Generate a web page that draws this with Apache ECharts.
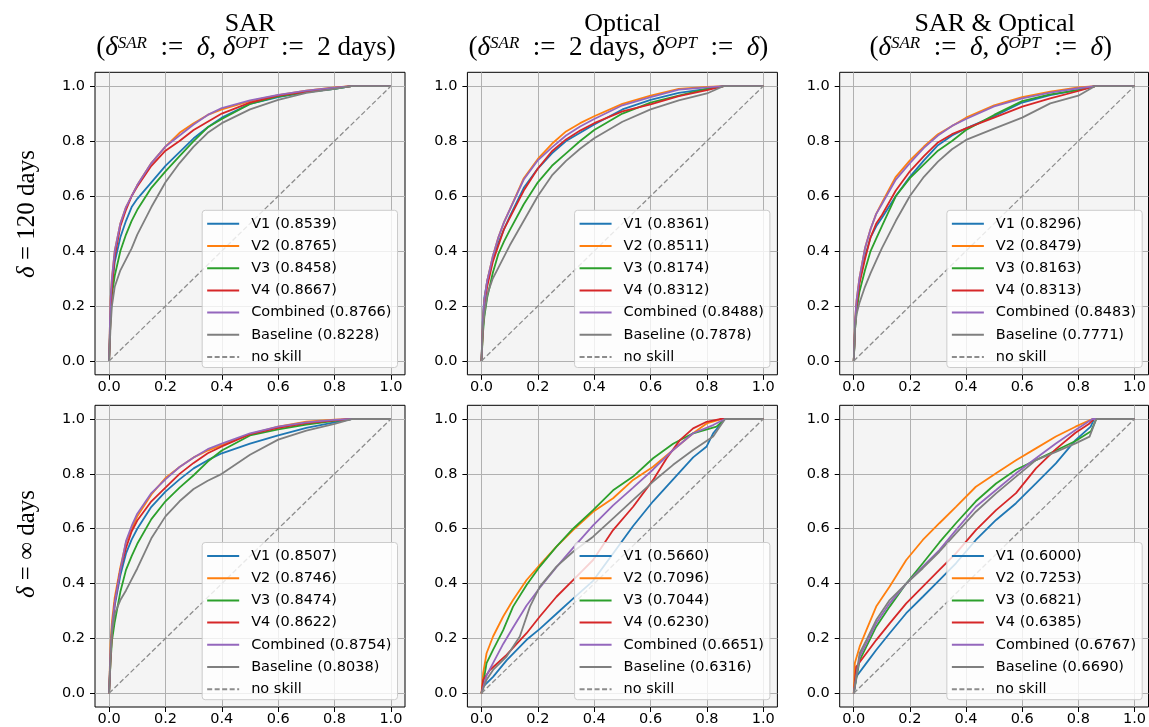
<!DOCTYPE html>
<html><head><meta charset="utf-8">
<script src="https://cdn.jsdelivr.net/npm/echarts@6/dist/echarts.min.js"></script>
<style>html,body{margin:0;padding:0;background:#fff}#c{width:1149px;height:727px}</style>
</head><body><div id="c"></div>
<script>
// ---------- data ----------
const tickValues = [0, 0.2, 0.4, 0.6, 0.8, 1.0];
const tickLabels = ['0.0', '0.2', '0.4', '0.6', '0.8', '1.0'];
const modelNames = ['V1', 'V2', 'V3', 'V4', 'Combined', 'Baseline'];
const colTitles = ['SAR', 'Optical', 'SAR & Optical'];
const rowLabels = ['120', '∞'];

// shared false-positive-rate grid for the smooth panels
const fprGrid = [0,0.005,0.01,0.02,0.04,0.06,0.08,0.1,0.15,0.2,0.25,0.3,0.35,0.4,0.5,0.6,0.7,0.8,0.86,1];

// SAR, delta = 120 days
const sar120_auc = ['0.8539','0.8765','0.8458','0.8667','0.8766','0.8228'];
const sar120_V1 = [0,.18,.27,.36,.45,.51,.56,.59,.65,.71,.76,.81,.85,.885,.935,.96,.978,.99,1,1];
const sar120_V2 = [0,.22,.30,.40,.50,.56,.60,.64,.72,.78,.83,.865,.895,.915,.945,.967,.983,.995,1,1];
const sar120_V3 = [0,.15,.24,.31,.40,.46,.51,.55,.63,.69,.745,.80,.85,.88,.935,.962,.978,.99,1,1];
const sar120_V4 = [0,.15,.27,.38,.49,.55,.60,.635,.71,.765,.80,.84,.87,.90,.94,.965,.98,.993,1,1];
const sar120_C  = [0,.22,.30,.40,.50,.56,.60,.64,.72,.78,.82,.86,.895,.92,.948,.968,.983,.994,1,1];
const sar120_B  = [0,.12,.20,.27,.33,.37,.41,.46,.56,.65,.72,.78,.83,.865,.915,.95,.975,.99,1,1];

// Optical, delta = 120 days
const opt120_auc = ['0.8361','0.8511','0.8174','0.8312','0.8488','0.7878'];
const opt120_V1 = [0,.16,.23,.29,.37,.43,.48,.525,.63,.70,.755,.80,.83,.86,.915,.95,.975,.99,1,1];
const opt120_V2 = [0,.15,.22,.29,.38,.45,.505,.55,.665,.735,.79,.835,.865,.89,.935,.965,.99,.997,1,1];
const opt120_V3 = [0,.10,.16,.23,.32,.39,.435,.475,.57,.65,.71,.755,.80,.84,.90,.94,.965,.99,1,1];
const opt120_V4 = [0,.12,.19,.27,.36,.42,.48,.52,.62,.70,.763,.806,.838,.865,.908,.933,.963,.985,1,1];
const opt120_C  = [0,.15,.22,.29,.38,.45,.505,.55,.66,.73,.777,.82,.853,.88,.93,.96,.987,.995,1,1];
const opt120_B  = [0,.12,.17,.24,.30,.34,.38,.42,.51,.60,.675,.728,.772,.81,.87,.915,.948,.973,1,1];

// SAR & Optical, delta = 120 days
const so120_auc = ['0.8296','0.8479','0.8163','0.8313','0.8483','0.7771'];
const so120_V1 = [0,.13,.20,.29,.38,.45,.49,.52,.60,.67,.73,.785,.82,.846,.89,.94,.967,.986,1,1];
const so120_V2 = [0,.15,.22,.30,.41,.48,.535,.575,.67,.73,.78,.825,.855,.885,.93,.96,.98,.995,1,1];
const so120_V3 = [0,.12,.18,.25,.33,.40,.445,.49,.60,.665,.715,.765,.80,.84,.895,.945,.97,.985,1,1];
const so120_V4 = [0,.13,.20,.28,.37,.45,.50,.53,.62,.69,.745,.795,.825,.846,.885,.925,.955,.982,1,1];
const so120_C  = [0,.15,.22,.30,.41,.48,.535,.57,.66,.72,.775,.82,.855,.88,.926,.955,.976,.992,1,1];
const so120_B  = [0,.12,.17,.21,.27,.32,.365,.41,.51,.60,.67,.725,.77,.804,.845,.885,.937,.965,1,1];

// SAR, delta = inf
const sarInf_auc = ['0.8507','0.8746','0.8474','0.8622','0.8754','0.8038'];
const sarInf_V1 = [0,.15,.22,.32,.43,.51,.56,.60,.68,.735,.78,.82,.85,.875,.91,.94,.968,.988,1,1];
const sarInf_V2 = [0,.18,.26,.35,.46,.55,.60,.645,.725,.785,.825,.86,.885,.905,.945,.972,.99,.998,1,1];
const sarInf_V3 = [0,.11,.19,.26,.37,.45,.50,.545,.635,.70,.75,.795,.845,.885,.94,.962,.98,.993,1,1];
const sarInf_V4 = [0,.12,.22,.33,.45,.53,.59,.63,.70,.75,.80,.84,.875,.90,.945,.968,.985,.995,1,1];
const sarInf_C  = [0,.15,.24,.33,.45,.555,.61,.655,.73,.78,.825,.86,.89,.91,.948,.972,.988,.997,1,1];
const sarInf_B  = [0,.12,.22,.29,.34,.375,.415,.455,.565,.645,.70,.745,.775,.80,.87,.925,.958,.982,1,1];

// Optical, delta = inf  ([fpr, tpr] pairs)
const optInf_auc = ['0.5660','0.7096','0.7044','0.6230','0.6651','0.6316'];
const optInf_V1 = [[0,0],[.006,.024],[.041,.06],[.089,.12],[.16,.195],[.207,.235],[.266,.29],[.325,.345],[.396,.41],[.467,.51],[.538,.61],[.609,.70],[.68,.78],[.751,.86],[.799,.90],[.822,.948],[.864,1],[1,1]];
const optInf_V2 = [[0,0],[.006,.073],[.018,.146],[.041,.207],[.077,.28],[.112,.34],[.16,.413],[.207,.468],[.266,.535],[.325,.595],[.396,.662],[.467,.711],[.538,.778],[.609,.826],[.68,.887],[.751,.948],[.799,.984],[.852,1],[1,1]];
const optInf_V3 = [[0,0],[.018,.11],[.041,.158],[.077,.23],[.112,.316],[.16,.395],[.207,.462],[.266,.535],[.325,.60],[.396,.668],[.467,.74],[.538,.79],[.609,.857],[.68,.91],[.751,.948],[.834,.972],[.864,1],[1,1]];
const optInf_V4 = [[0,0],[.006,.049],[.03,.085],[.089,.14],[.16,.219],[.207,.28],[.266,.352],[.325,.413],[.396,.486],[.467,.595],[.538,.68],[.609,.778],[.657,.857],[.704,.923],[.751,.966],[.799,.99],[.846,1],[1,1]];
const optInf_C  = [[0,0],[.018,.065],[.041,.11],[.077,.18],[.112,.24],[.16,.32],[.207,.385],[.266,.46],[.325,.53],[.396,.612],[.467,.685],[.538,.75],[.609,.816],[.68,.887],[.751,.948],[.822,.978],[.864,1],[1,1]];
const optInf_B  = [[0,0],[.018,.049],[.041,.085],[.089,.134],[.136,.207],[.172,.316],[.207,.389],[.266,.462],[.325,.516],[.396,.571],[.467,.638],[.538,.705],[.609,.772],[.68,.833],[.751,.887],[.822,.936],[.864,1],[1,1]];

// SAR & Optical, delta = inf ([fpr, tpr] pairs)
const soInf_auc = ['0.6000','0.7253','0.6821','0.6385','0.6767','0.6690'];
const soInf_V1 = [[0,0],[.009,.06],[.045,.11],[.08,.158],[.128,.219],[.187,.292],[.246,.352],[.305,.413],[.364,.474],[.435,.559],[.507,.632],[.578,.693],[.649,.765],[.72,.838],[.79,.923],[.844,.972],[.856,1],[1,1]];
const soInf_V2 = [[0,0],[.004,.11],[.021,.17],[.045,.23],[.08,.316],[.128,.389],[.187,.486],[.246,.559],[.305,.62],[.364,.68],[.435,.753],[.507,.802],[.578,.85],[.649,.893],[.72,.936],[.79,.972],[.85,1],[1,1]];
const soInf_V3 = [[0,0],[.021,.12],[.045,.17],[.08,.243],[.128,.316],[.187,.40],[.246,.474],[.305,.55],[.364,.62],[.435,.70],[.507,.765],[.578,.815],[.649,.85],[.72,.885],[.79,.92],[.845,.955],[.864,1],[1,1]];
const soInf_V4 = [[0,0],[.009,.097],[.045,.146],[.08,.194],[.128,.255],[.187,.328],[.246,.389],[.305,.45],[.364,.51],[.435,.595],[.507,.668],[.578,.73],[.649,.82],[.72,.89],[.79,.95],[.84,.984],[.855,1],[1,1]];
const soInf_C  = [[0,0],[.021,.134],[.045,.182],[.08,.255],[.128,.328],[.187,.40],[.246,.462],[.305,.522],[.364,.595],[.435,.68],[.507,.741],[.578,.802],[.649,.857],[.72,.911],[.79,.96],[.85,1],[1,1]];
const soInf_B  = [[0,0],[.021,.146],[.045,.194],[.08,.267],[.128,.34],[.187,.40],[.246,.456],[.305,.516],[.364,.583],[.435,.662],[.507,.729],[.578,.79],[.649,.85],[.72,.88],[.79,.911],[.84,.936],[.864,1],[1,1]];

const noSkill = [[0,0],[1,1]];

// ---------- build ----------
const zipGrid = tpr => tpr.map((v, i) => [fprGrid[i], v]);
const panels = [
  {auc: sar120_auc, curves: [sar120_V1,sar120_V2,sar120_V3,sar120_V4,sar120_C,sar120_B].map(zipGrid)},
  {auc: opt120_auc, curves: [opt120_V1,opt120_V2,opt120_V3,opt120_V4,opt120_C,opt120_B].map(zipGrid)},
  {auc: so120_auc,  curves: [so120_V1,so120_V2,so120_V3,so120_V4,so120_C,so120_B].map(zipGrid)},
  {auc: sarInf_auc, curves: [sarInf_V1,sarInf_V2,sarInf_V3,sarInf_V4,sarInf_C,sarInf_B].map(zipGrid)},
  {auc: optInf_auc, curves: [optInf_V1,optInf_V2,optInf_V3,optInf_V4,optInf_C,optInf_B]},
  {auc: soInf_auc,  curves: [soInf_V1,soInf_V2,soInf_V3,soInf_V4,soInf_C,soInf_B]}
];

const colors = ['#1f77b4','#ff7f0e','#2ca02c','#d62728','#9467bd','#7f7f7f'];
const gridLeft = [95, 467.4, 839.7];
const gridTop = [72.3, 405.3];
const gridW = 310;
const gridH = [302.5, 301.7];
const sansFont = '"DejaVu Sans", sans-serif';
const serifFont = '"Liberation Serif", "DejaVu Serif", serif';

const grid = [], xAxis = [], yAxis = [], series = [], legend = [];
panels.forEach((p, i) => {
  const r = Math.floor(i / 3), c = i % 3;
  grid.push({left: gridLeft[c], top: gridTop[r], width: gridW, height: gridH[r],
    show: true, backgroundColor: '#f4f4f4', borderColor: '#000', borderWidth: 1});
  const axisBase = {
    type: 'value', gridIndex: i, min: -0.05, max: 1.05,
    axisLine: {show: false, onZero: false},
    axisTick: {show: true, inside: false, length: 5, customValues: tickValues, lineStyle: {color: '#000', width: 1}},
    splitLine: {show: true, lineStyle: {color: '#b0b0b0', width: 1}},
    axisLabel: {customValues: tickValues, color: '#000', fontFamily: sansFont, fontSize: 14.5,
      formatter: v => tickLabels[tickValues.findIndex(t => Math.abs(t - v) < 1e-6)] || ''}
  };
  xAxis.push(Object.assign({}, axisBase, {position: 'bottom', axisLabel: Object.assign({}, axisBase.axisLabel, {margin: 5})}));
  yAxis.push(Object.assign({}, axisBase, {position: 'left', axisLabel: Object.assign({}, axisBase.axisLabel, {margin: 10})}));
  const names = [];
  p.curves.forEach((d, k) => {
    const name = modelNames[k] + ' (' + p.auc[k] + ')';
    names.push(name);
    series.push({type: 'line', name, xAxisIndex: i, yAxisIndex: i, data: d,
      symbol: 'none', showSymbol: false, lineStyle: {color: colors[k], width: 1.8}, itemStyle: {color: colors[k]},
      emphasis: {disabled: true}});
  });
  series.push({type: 'line', name: 'no skill', xAxisIndex: i, yAxisIndex: i, data: noSkill,
    symbol: 'none', showSymbol: false, lineStyle: {color: '#8c8c8c', width: 1.3, type: [5, 2.5]}, itemStyle: {color: '#8c8c8c'},
    emphasis: {disabled: true}});
  names.push('no skill');
  legend.push({
    orient: 'vertical', data: names, selectedMode: false,
    right: 1149 - (gridLeft[c] + gridW - 7.5),
    bottom: 727 - (gridTop[r] + gridH[r] - 7.3),
    itemWidth: 32, itemHeight: 14, itemGap: 7.2,
    padding: [6, 6, 3, 4],
    itemStyle: {opacity: 0},
    backgroundColor: 'rgba(255,255,255,0.8)', borderColor: '#cccccc', borderWidth: 1, borderRadius: 3,
    textStyle: {fontFamily: sansFont, fontSize: 14.5, color: '#000', lineHeight: 15, padding: [0, 0, 0, 7]}
  });
});

const T1 = 26;  // title line 1 font size
const T2 = 27;  // title line 2 font size
const richT = {
  d: {fontFamily: serifFont, fontSize: T2, fontStyle: 'italic', lineHeight: 32, fill: '#000'},
  s: {fontFamily: serifFont, fontSize: 17, fontStyle: 'italic', lineHeight: 17, padding: [3, 0, 0, 0], verticalAlign: 'top', fill: '#000'}
};
const EM = '\u2002';
const line2 = [
  '({d|δ}{s|SAR}' + EM + ':=' + EM + '{d|δ}, {d|δ}{s|OPT}' + EM + ':=' + EM + '2 days)',
  '({d|δ}{s|SAR}' + EM + ':=' + EM + '2 days, {d|δ}{s|OPT}' + EM + ':=' + EM + '{d|δ})',
  '({d|δ}{s|SAR}' + EM + ':=' + EM + '{d|δ}, {d|δ}{s|OPT}' + EM + ':=' + EM + '{d|δ})'
];
const graphic = [];
colTitles.forEach((t, c) => {
  const cx = gridLeft[c] + gridW / 2;
  graphic.push({type: 'text', x: cx, y: 24.5, style: {text: t, font: T1 + 'px ' + serifFont, fill: '#000', align: 'center', verticalAlign: 'middle'}});
  graphic.push({type: 'text', x: cx - 4, y: 48, style: {text: line2[c], font: T2 + 'px ' + serifFont, fill: '#000', align: 'center', verticalAlign: 'middle', lineHeight: 32, rich: richT}});
});
const rowCenters = [214, 544];
rowLabels.forEach((t, r) => {
  graphic.push({type: 'text', x: 27, y: rowCenters[r], rotation: Math.PI / 2,
    style: {text: '{d|δ} = ' + t + ' days', font: '25px ' + serifFont, fill: '#000', align: 'center', verticalAlign: 'middle', lineHeight: 32,
      rich: {d: {fontFamily: serifFont, fontSize: 25, fontStyle: 'italic', lineHeight: 32, fill: '#000'}}}});
});

const chart = echarts.init(document.getElementById('c'), null, {renderer: 'canvas'});
chart.setOption({animation: false, grid, xAxis, yAxis, series, legend, graphic, tooltip: {show: false}});
</script>
</body></html>
